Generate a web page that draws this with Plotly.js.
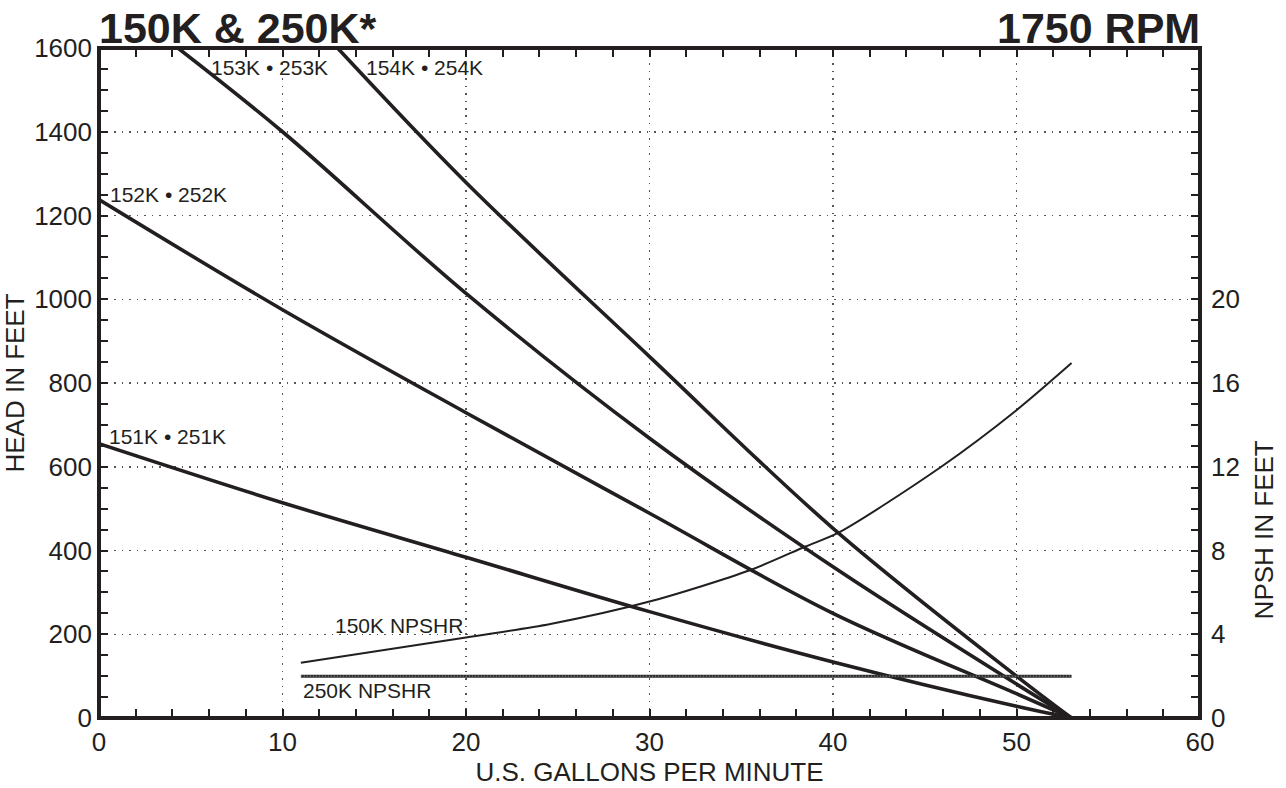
<!DOCTYPE html>
<html><head><meta charset="utf-8">
<script src="https://cdn.plot.ly/plotly-3.0.1.min.js"></script>
<style>html,body{margin:0;padding:0;background:#fff}#chart{width:1286px;height:788px}</style>
</head><body><div id="chart"></div>
<script>
// ---- data ----
const gpm151 = [0, 10, 20, 30, 40, 50, 53];
const head151 = [655, 514, 384, 254, 134, 28, 0];
const gpm152 = [0, 10, 20, 30, 40, 50, 53];
const head152 = [1238, 975, 729, 489, 250, 58, 0];
const gpm153 = [4.3, 10, 20, 30, 40, 50, 53];
const head153 = [1600, 1400, 1014, 668, 361, 81, 0];
const gpm154 = [13, 20, 30, 40, 50, 53];
const head154 = [1600, 1279, 863, 453, 100, 0];
const gpmNpshr150 = [11, 20, 24.6, 30, 35.5, 38.5, 40.3, 45.9, 50, 53];
const npshr150 = [2.64, 3.85, 4.49, 5.56, 7.07, 8.19, 8.85, 12, 14.7, 16.95];
const gpmNpshr250 = [11, 53];
const npshr250 = [2, 2];
const curveNames = ["151K • 251K", "152K • 252K", "153K • 253K", "154K • 254K"];
const npshrNames = ["150K NPSHR", "250K NPSHR"];
const npshTickVals = [0, 4, 8, 12, 16, 20];

const INK = '#231f20';
const FONT = 'Liberation Sans, Arial, Helvetica, sans-serif';

function pump(x, y, name) {
  return {x: x, y: y, name: name, type: 'scatter', mode: 'lines', xaxis: 'x', yaxis: 'y',
    line: {color: INK, width: 3.6, shape: 'spline', smoothing: 1}, hoverinfo: 'skip'};
}
const traces = [
  pump(gpm151, head151, curveNames[0]),
  pump(gpm152, head152, curveNames[1]),
  pump(gpm153, head153, curveNames[2]),
  pump(gpm154, head154, curveNames[3]),
  {x: gpmNpshr150, y: npshr150, name: npshrNames[0], type: 'scatter', mode: 'lines', xaxis: 'x', yaxis: 'y2',
   line: {color: INK, width: 2, shape: 'spline', smoothing: 0.8}, hoverinfo: 'skip'},
  {x: gpmNpshr250, y: npshr250, name: npshrNames[1], type: 'scatter', mode: 'lines', xaxis: 'x', yaxis: 'y2',
   line: {color: '#2e2e2e', width: 3}, hoverinfo: 'skip'},
  {x: gpmNpshr250, y: npshr250, type: 'scatter', mode: 'lines', xaxis: 'x', yaxis: 'y2', showlegend: false,
   line: {color: '#9a9a9a', width: 1, dash: '1px,2px'}, hoverinfo: 'skip'}
];

function lbl(text, x, y) {
  return {text: text, x: x, y: y, xref: 'x', yref: 'y', xanchor: 'left', yanchor: 'middle',
    showarrow: false, font: {family: FONT, size: 21, color: INK}};
}
const tickStyle = {ticks: 'inside', ticklen: 9, tickwidth: 2, tickcolor: INK};
const gridStyle = {showgrid: true, gridcolor: '#555', gridwidth: 1.5, griddash: '1.5px,6px'};

const layout = {
  width: 1286, height: 788,
  margin: {l: 99, r: 86, t: 48, b: 70},
  paper_bgcolor: '#fff', plot_bgcolor: '#fff',
  showlegend: false,
  font: {family: FONT, color: INK, size: 26},
  xaxis: Object.assign({
    range: [0, 60], tickmode: 'linear', tick0: 0, dtick: 10,
    showline: false, zeroline: false, mirror: 'allticks',
    minor: Object.assign({dtick: 2, tick0: 0, showgrid: false}, tickStyle),
    tickfont: {size: 26, family: FONT, color: INK}, ticklabelstandoff: 6,
    title: {text: 'U.S. GALLONS PER MINUTE', font: {size: 26, family: FONT, color: INK}, standoff: 6}
  }, tickStyle, gridStyle),
  yaxis: Object.assign({
    range: [0, 1600], tickmode: 'linear', tick0: 0, dtick: 200,
    showline: false, zeroline: false,
    minor: Object.assign({dtick: 50, tick0: 0, showgrid: false}, tickStyle),
    tickfont: {size: 26, family: FONT, color: INK}, ticklabelstandoff: 6,
    title: {text: 'HEAD IN FEET', font: {size: 26, family: FONT, color: INK}, standoff: 4}
  }, tickStyle, gridStyle),
  yaxis2: Object.assign({
    range: [0, 32], overlaying: 'y', side: 'right', tickvals: npshTickVals,
    showline: false, showgrid: false, zeroline: false,
    minor: Object.assign({dtick: 1, tick0: 0, showgrid: false}, tickStyle),
    tickfont: {size: 26, family: FONT, color: INK}, ticklabelstandoff: 10
  }, tickStyle),
  shapes: [
    {type: 'rect', xref: 'paper', yref: 'paper', x0: 0, x1: 1, y0: 0, y1: 1, layer: 'above',
     line: {color: INK, width: 4}}
  ],
  annotations: [
    {text: '<b>150K &amp; 250K*</b>', xref: 'paper', yref: 'paper', x: 0, y: 1, xanchor: 'left', yanchor: 'bottom',
     yshift: -6, xshift: -2, showarrow: false, font: {family: FONT, size: 43, color: INK}},
    {text: '<b>1750 RPM</b>', xref: 'paper', yref: 'paper', x: 1, y: 1, xanchor: 'right', yanchor: 'bottom',
     yshift: -6, xshift: 2, showarrow: false, font: {family: FONT, size: 43, color: INK}},
    {text: 'NPSH IN FEET', xref: 'paper', yref: 'paper', x: 1, y: 0.28, xanchor: 'center', yanchor: 'middle',
     xshift: 64, textangle: -90, showarrow: false, font: {family: FONT, size: 26, color: INK}},
    lbl(curveNames[0], 0.45, 673),
    lbl(curveNames[1], 0.5, 1249),
    lbl(curveNames[2], 6.0, 1554),
    lbl(curveNames[3], 14.45, 1554),
    lbl(npshrNames[0], 12.75, 222),
    lbl(npshrNames[1], 11.0, 66)
  ]
};

Plotly.newPlot('chart', traces, layout, {displayModeBar: false, staticPlot: true});
</script>
</body></html>
